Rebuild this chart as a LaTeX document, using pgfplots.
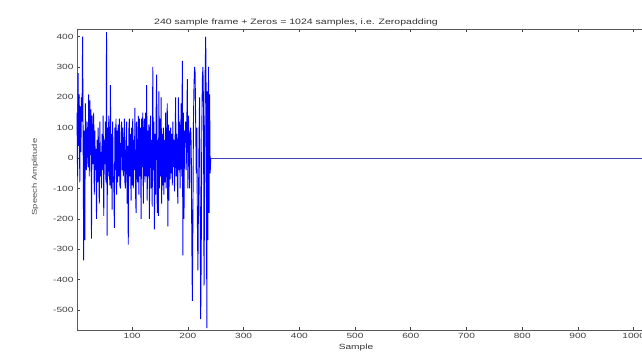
\documentclass[border=0pt]{standalone}
\usepackage{pgfplots}
\pgfplotsset{compat=1.18}
\usepackage{pgfplotstable}
\usepackage{fontspec}
\setmainfont[FakeStretch=1.35]{Liberation Sans}
\pgfplotstableread{
v
150
-60
280
40
210
-80
170
20
200
120
400
60
-337
90
-270
180
30
-40
120
60
-30
210
-60
190
10
160
-265
140
80
-20
150
-120
90
-40
30
-200
60
-80
100
-30
-150
120
-60
20
-100
80
-40
140
-190
60
-20
120
-80
415
-255
100
-60
140
-30
-90
240
-100
80
-170
120
-80
-60
-230
100
-40
130
-120
90
-80
110
-60
130
-90
-100
70
120
-40
100
-60
-30
130
-80
-100
50
120
-150
40
-285
90
130
-60
80
-140
100
-90
130
-100
60
-40
165
-110
-180
120
-60
-80
140
-120
130
-60
100
-200
130
-30
150
-150
60
130
-80
150
-60
240
-140
90
-60
110
-200
80
140
-100
60
-160
300
-40
120
-235
80
-120
150
275
-180
60
-190
220
-100
130
-60
200
-150
80
-90
100
-120
60
-80
150
-100
40
180
-225
110
-140
90
-70
100
-50
80
-90
120
-30
60
-110
40
200
-60
80
-70
-150
200
-40
120
-100
60
180
-60
320
-320
150
-200
90
50
120
-40
100
260
-100
140
60
-100
80
100
40
-260
-470
-200
120
240
300
280
120
-50
100
-200
-370
-150
60
200
-150
-530
-300
100
260
300
180
-420
-100
280
400
150
-560
220
-270
300
-180
210
-50
0
}\speech
\begin{document}
\begin{tikzpicture}
\begin{axis}[
  at={(77pt,23pt)}, anchor=south west,
  scale only axis, width=570pt, height=301pt,
  xmin=1, xmax=1024, ymin=-566, ymax=425,
  xtick={100,200,...,1000}, ytick={-500,-400,...,400},
  tick align=inside, major tick length=3pt,
  axis line style={black!65, line width=0.8pt},
  tick style={black!75, line width=0.6pt},
  ticklabel style={font=\fontsize{7.5}{8}\selectfont, text=black!75},
  /pgf/number format/assume math mode=true,
  /pgf/number format/1000 sep={},
  scaled ticks=false,
  clip=false,
]
\addplot[blue, line width=0.9pt] table[x expr=\coordindex+1, y index=0] {\speech};
\addplot[blue!50!gray, line width=0.5pt] coordinates {(241,0) (1024,0)};
\end{axis}
\node[font=\fontsize{7.8}{8}\selectfont, text=black!80] at (296pt,331pt) {240 sample frame + Zeros = 1024 samples, i.e. Zeropadding};
\node[font=\fontsize{7.5}{8}\selectfont, text=black!80] at (356pt,5pt) {Sample};
\node[font=\fontsize{7}{8}\selectfont, text=black!70, rotate=90] at (35pt,176pt) {Speech Amplitude};
\pgfresetboundingbox
\path[use as bounding box] (0,0) rectangle (642pt,353pt);
\end{tikzpicture}
\end{document}
